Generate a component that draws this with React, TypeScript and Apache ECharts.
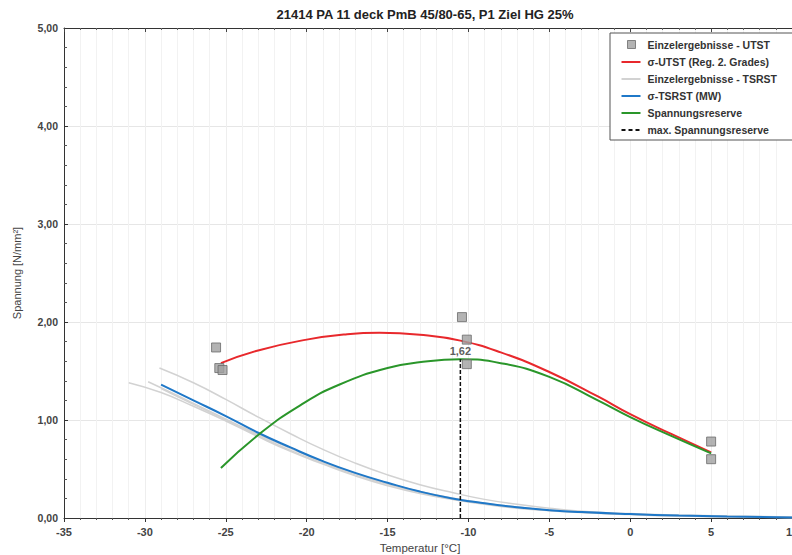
import React, { useEffect, useRef } from "react";
import * as echarts from "echarts";

const titleText = "21414 PA 11 deck PmB 45/80-65, P1 Ziel HG 25%";
const xName = "Temperatur [°C]";
const yName = "Spannung [N/mm²]";

const utstPoints: [number, number][] = [
  [-25.6, 1.74], [-25.4, 1.53], [-25.2, 1.51],
  [-10.4, 2.05], [-10.1, 1.82], [-10.1, 1.57],
  [5.0, 0.78], [5.0, 0.60],
];

const utstCurve: [number, number][] = [
  [-25.3, 1.58], [-23, 1.71], [-20, 1.82], [-17.5, 1.875], [-15.5, 1.89], [-13, 1.87],
  [-10.5, 1.81], [-8, 1.69], [-5, 1.49], [-2, 1.24], [0, 1.06], [2.5, 0.86], [5, 0.67],
];

const tsrst1: [number, number][] = [
  [-29.1, 1.53], [-27, 1.38], [-25, 1.21], [-23, 1.03], [-21, 0.86], [-19, 0.70], [-17, 0.56],
  [-15, 0.44], [-13, 0.34], [-11, 0.26], [-9, 0.19], [-7, 0.14], [-5, 0.10], [-3, 0.07],
  [0, 0.045], [3, 0.03], [6, 0.02], [10, 0.01],
];
const tsrst2: [number, number][] = [
  [-31, 1.38], [-29, 1.28], [-27, 1.14], [-25, 0.99], [-23, 0.83], [-21, 0.68], [-19, 0.55],
  [-17, 0.43], [-15, 0.33], [-13, 0.25], [-11, 0.19], [-9, 0.14], [-7, 0.10], [-5, 0.075],
  [-3, 0.055], [0, 0.035], [3, 0.02], [6, 0.012], [10, 0.005],
];
const tsrst3: [number, number][] = [
  [-29.8, 1.39], [-28, 1.25], [-26, 1.09], [-24, 0.93], [-22, 0.78], [-20, 0.64], [-18, 0.51],
  [-16, 0.40], [-14, 0.31], [-12, 0.235], [-10, 0.175], [-8, 0.13], [-6, 0.095], [-4, 0.07],
  [-2, 0.05], [0, 0.037], [4, 0.02], [10, 0.005],
];
const tsrst4: [number, number][] = [
  [-29, 1.32], [-27, 1.16], [-25, 1.00], [-23, 0.84], [-21, 0.69], [-19, 0.56], [-17, 0.44],
  [-15, 0.345], [-13, 0.26], [-11, 0.195], [-9, 0.145], [-7, 0.105], [-5, 0.078], [-3, 0.057],
  [0, 0.037], [3, 0.022], [6, 0.013], [10, 0.006],
];

const tsrstMean: [number, number][] = [
  [-29, 1.36], [-27, 1.20], [-25, 1.04], [-23, 0.87], [-21, 0.72], [-19, 0.58], [-17, 0.46],
  [-15, 0.36], [-13, 0.27], [-11, 0.20], [-9, 0.15], [-7, 0.11], [-5, 0.08], [-3, 0.06],
  [0, 0.04], [3, 0.025], [6, 0.015], [10, 0.005],
];

const reserveCurve: [number, number][] = [
  [-25.3, 0.51], [-22.9, 0.86], [-20.4, 1.15], [-18, 1.36], [-15, 1.53], [-12.5, 1.60],
  [-10.5, 1.62], [-8, 1.58], [-5, 1.44], [-2, 1.20], [0, 1.03], [2.5, 0.84], [5, 0.66],
];

const maxReserve: [number, number][] = [[-10.5, 0], [-10.5, 1.62]];
const maxReserveLabel = "1,62";

const legendNames = [
  "Einzelergebnisse - UTST",
  "σ-UTST (Reg. 2. Grades)",
  "Einzelergebnisse - TSRST",
  "σ-TSRST (MW)",
  "Spannungsreserve",
  "max. Spannungsreserve",
];

const COLORS = {
  point: "#a0a0a0",
  pointBorder: "#6a6a6a",
  red: "#e8282c",
  gray: "#d2d2d2",
  blue: "#1f78c8",
  green: "#2a962a",
  black: "#111111",
};

const FONT = "Liberation Sans, Arial, sans-serif";

const ICON_SQUARE = "path://M0,0 M22,12 M7,2 L15,2 L15,10 L7,10 Z";
const ICON_LINE = "path://M0,0 M22,12 M1,5 L20,5 L20,7 L1,7 Z";
const ICON_DASH =
  "path://M0,0 M22,12 M1,5 L5,5 L5,7 L1,7 Z M8,5 L12,5 L12,7 L8,7 Z M15,5 L19,5 L19,7 L15,7 Z";

export default function App() {
  const ref = useRef<HTMLDivElement>(null);
  useEffect(() => {
    if (!ref.current) return;
    const chart = echarts.init(ref.current, null, { renderer: "svg" });
    const grayLine = (data: [number, number][]) => ({
      type: "line",
      name: legendNames[2],
      data,
      symbol: "none",
      smooth: true,
      lineStyle: { color: COLORS.gray, width: 1.5 },
      itemStyle: { color: COLORS.gray },
      z: 2,
    });
    const legendColors = [COLORS.point, COLORS.red, COLORS.gray, COLORS.blue, COLORS.green, COLORS.black];
    const legendIcons = [ICON_SQUARE, ICON_LINE, ICON_LINE, ICON_LINE, ICON_LINE, ICON_DASH];
    chart.setOption({
      animation: false,
      backgroundColor: "#fff",
      title: {
        text: titleText,
        left: 420,
        textAlign: "center",
        top: 3,
        textStyle: { fontFamily: FONT, fontSize: 13, fontWeight: "bold", color: "#222" },
      },
      legend: {
        data: legendNames.map((n, i) => ({
          name: n,
          icon: legendIcons[i],
          itemStyle:
            i === 0
              ? { color: COLORS.point, borderColor: COLORS.pointBorder, borderWidth: 1 }
              : { color: legendColors[i], borderWidth: 0 },
        })),
        orient: "vertical",
        left: 610,
        top: 33,
        itemGap: 5,
        itemWidth: 22,
        itemHeight: 12,
        padding: [5, 22, 4, 10],
        borderColor: "#555",
        borderWidth: 1,
        backgroundColor: "#fff",
        textStyle: { fontFamily: FONT, fontSize: 10.5, fontWeight: "bold", color: "#333" },
      },
      grid: { left: 64, right: 0, top: 28, bottom: 37, outerBoundsMode: "none", containLabel: false },
      xAxis: [
        {
          type: "value",
          min: -35,
          max: 10,
          interval: 5,
          name: xName,
          nameLocation: "middle",
          nameGap: 24,
          nameTextStyle: { fontFamily: FONT, fontSize: 11.5, color: "#444", padding: [0, 16, 0, 0] },
          axisLine: { show: true, onZero: false, lineStyle: { color: "#333" } },
          axisTick: { show: true, length: 4, lineStyle: { color: "#333" } },
          minorTick: { show: true, splitNumber: 5, length: 2, lineStyle: { color: "#555" } },
          axisLabel: { fontFamily: FONT, fontSize: 11, fontWeight: "bold", color: "#444", margin: 8 },
          splitLine: { show: true, lineStyle: { color: "#eeeeee" } },
          minorSplitLine: { show: true, lineStyle: { color: "#f2f2f2" } },
        },
        {
          type: "value",
          position: "top",
          min: -35,
          max: 10,
          interval: 5,
          axisLine: { show: true, onZero: false, lineStyle: { color: "#333" } },
          axisTick: { show: true, inside: true, length: 4, lineStyle: { color: "#444" } },
          minorTick: { show: true, splitNumber: 5, length: 2, lineStyle: { color: "#666" } },
          axisLabel: { show: false },
          splitLine: { show: false },
        },
      ],
      yAxis: {
        type: "value",
        min: 0,
        max: 5,
        interval: 1,
        name: yName,
        nameLocation: "middle",
        nameGap: 42,
        nameTextStyle: { fontFamily: FONT, fontSize: 11, color: "#444" },
        axisLine: { show: true, onZero: false, lineStyle: { color: "#333" } },
        axisTick: { show: true, inside: true, length: 4, lineStyle: { color: "#333" } },
        minorTick: { show: true, splitNumber: 5, length: 3, lineStyle: { color: "#555" } },
        axisLabel: {
          fontFamily: FONT,
          fontSize: 10.5,
          fontWeight: "bold",
          color: "#444",
          margin: 6,
          formatter: (v: number) => v.toFixed(2).replace(".", ","),
        },
        splitLine: { show: true, lineStyle: { color: "#e6e6e6" } },
      },
      series: [
        {
          type: "scatter",
          name: legendNames[0],
          data: utstPoints,
          symbol: "rect",
          symbolSize: 9,
          itemStyle: { color: COLORS.point, borderColor: COLORS.pointBorder, borderWidth: 1 },
          z: 5,
        },
        {
          type: "line",
          name: legendNames[1],
          data: utstCurve,
          symbol: "none",
          smooth: true,
          lineStyle: { color: COLORS.red, width: 2 },
          itemStyle: { color: COLORS.red },
          z: 4,
        },
        grayLine(tsrst1),
        grayLine(tsrst2),
        grayLine(tsrst3),
        grayLine(tsrst4),
        {
          type: "line",
          name: legendNames[3],
          data: tsrstMean,
          symbol: "none",
          smooth: true,
          lineStyle: { color: COLORS.blue, width: 2 },
          itemStyle: { color: COLORS.blue },
          z: 3,
        },
        {
          type: "line",
          name: legendNames[4],
          data: reserveCurve,
          symbol: "none",
          smooth: true,
          lineStyle: { color: COLORS.green, width: 2 },
          itemStyle: { color: COLORS.green },
          z: 4,
        },
        {
          type: "line",
          name: legendNames[5],
          data: maxReserve,
          symbol: "none",
          lineStyle: { color: COLORS.black, width: 1.5, type: [4, 2] },
          itemStyle: { color: COLORS.black },
          z: 4,
        },
        {
          type: "scatter",
          name: "label",
          data: [maxReserve[1]],
          symbolSize: 0,
          label: {
            show: true,
            position: "top",
            distance: 3,
            formatter: maxReserveLabel,
            fontFamily: FONT,
            fontSize: 11,
            fontWeight: "bold",
            color: "#333",
          },
          z: 6,
        },
      ],
    });
    return () => chart.dispose();
  }, []);
  return (
    <div
      ref={ref}
      style={{ position: "fixed", left: 0, top: 0, width: 792, height: 555, background: "#fff" }}
    />
  );
}
